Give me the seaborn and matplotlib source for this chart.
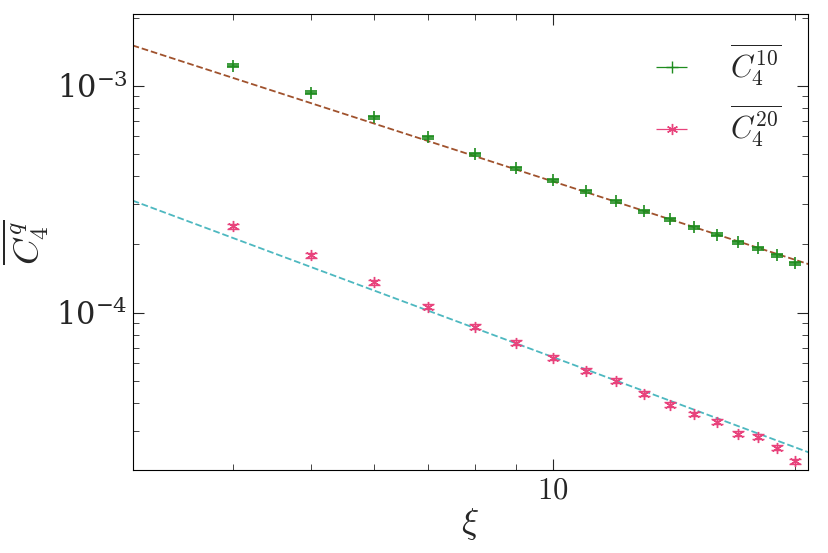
import numpy as np
import matplotlib
matplotlib.use("Agg")
import matplotlib.pyplot as plt
import seaborn as sns

xi = [4,5,6,7,8,9,10,11,12,13,14,15,16,17,18,19,20]
c10 = [1.226e-3,9.31e-4,7.29e-4,5.95e-4,5.0e-4,4.34e-4,3.84e-4,3.43e-4,3.10e-4,2.80e-4,2.58e-4,2.38e-4,2.21e-4,2.04e-4,1.92e-4,1.79e-4,1.65e-4]
c20 = [2.40e-4,1.79e-4,1.36e-4,1.06e-4,8.68e-5,7.37e-5,6.32e-5,5.54e-5,5.0e-5,4.38e-5,3.92e-5,3.57e-5,3.30e-5,2.92e-5,2.83e-5,2.53e-5,2.21e-5]
fit10 = (5.32e-3, -1.147)
fit20 = (1.33e-3, -1.32)

sns.set_style("ticks")
plt.rcParams['font.family'] = ['DejaVu Serif']
plt.rcParams['mathtext.fontset'] = 'cm'

green = '#1e8c1e'
pink = '#e8437c'
fig, ax = plt.subplots(figsize=(8.29,5.53), dpi=100)
xs = np.geomspace(3, 21, 200)
sns.lineplot(x=xs, y=fit10[0]*xs**fit10[1], ax=ax, color='#a0522d', ls='--', lw=1.3)
sns.lineplot(x=xs, y=fit20[0]*xs**fit20[1], ax=ax, color='#4db8c0', ls='--', lw=1.3)
c10a = np.array(c10); c20a = np.array(c20)
ax.errorbar(xi, c10a, yerr=0.015*c10a, fmt='+', color=green, ms=9, capsize=4, lw=0.9, mew=1.2)
ax.errorbar(xi, c20a, yerr=0.025*c20a, fmt='none', ecolor=pink, capsize=4, lw=0.9)
ax.plot(xi, c20a, ls='none', marker=(6,2,0), ms=8, color=pink, mew=1)
ax.set_xscale('log'); ax.set_yscale('log')
ax.set_xlim(3, 20.8); ax.set_ylim(2.02e-5, 2.08e-3)
ax.set_xticks([10]); ax.set_xticklabels(['$10$'])
ax.tick_params(which='both', direction='in', top=True, right=True, labelsize=22)
ax.tick_params(which='major', length=8)
ax.tick_params(which='minor', length=4)
ax.xaxis.set_minor_formatter(matplotlib.ticker.NullFormatter())
ax.set_xlabel(r'$\xi$', fontsize=26, labelpad=0)
ax.set_ylabel(r'$\overline{C_4^q}$', fontsize=26)
h1 = ax.errorbar([], [], xerr=[], fmt='+', color=green, ms=9, capsize=4, lw=0.9)
h2 = ax.errorbar([], [], xerr=[], fmt='none', ecolor=pink, capsize=4, lw=0.9)
h2m, = ax.plot([], [], ls='none', marker=(6,2,0), ms=8, color=pink)
ax.legend([h1, (h2, h2m)], [r'$\overline{C_4^{10}}$', r'$\overline{C_4^{20}}$'], loc='upper right', frameon=False, fontsize=22, handlelength=2.2)
for s in ax.spines.values(): s.set_color('black')
plt.subplots_adjust(left=0.16, right=0.975, bottom=0.15, top=0.975)
fig.savefig('out.png', dpi=100)
